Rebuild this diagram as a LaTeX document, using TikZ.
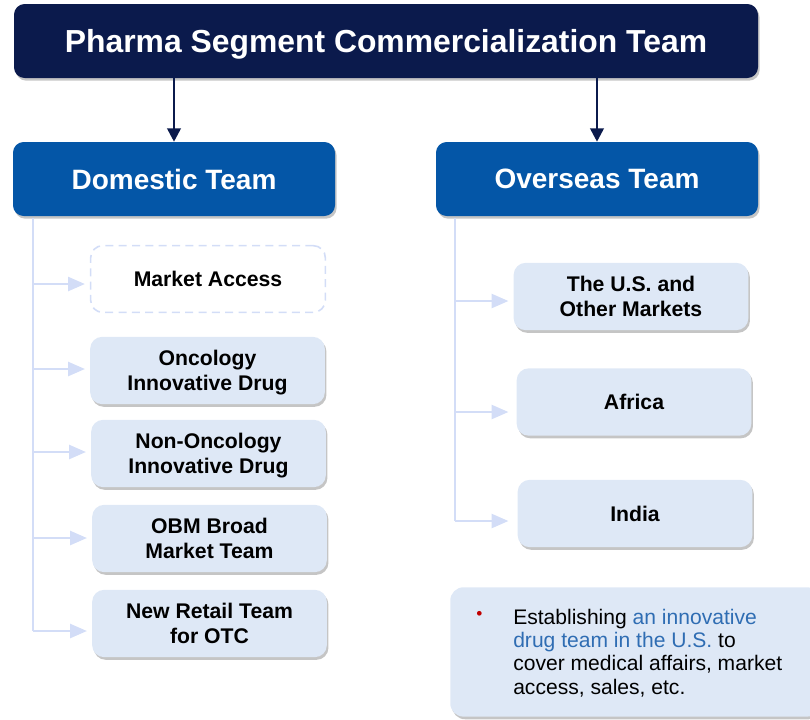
\documentclass[tikz,border=0pt]{standalone}
\usepackage{fontspec}
\setmainfont{Liberation Sans}
\usetikzlibrary{shadows,arrows.meta}
\definecolor{navy}{HTML}{0B1A4C}
\definecolor{midblue}{HTML}{0456A7}
\definecolor{paleblue}{HTML}{DEE8F6}
\definecolor{lineblue}{HTML}{D3DDF7}
\definecolor{textblue}{HTML}{2F6DB3}
\definecolor{bulletred}{HTML}{C00000}
\tikzset{
  px/.style={x=0.75pt,y=-0.75pt},
  softshadow/.style={drop shadow={shadow xshift=1.2pt,shadow yshift=-2pt,opacity=0.32,fill=black!70}},
  topbox/.style={fill=navy,rounded corners=8pt,minimum width=558pt,minimum height=55.5pt,text depth=0pt,
    text=white,font=\bfseries\fontsize{23.9}{28}\selectfont,inner sep=0pt,softshadow},
  teambox/.style={fill=midblue,rounded corners=8pt,minimum width=241.5pt,minimum height=55.5pt,text depth=0pt,
    text=white,font=\bfseries\fontsize{21}{24}\selectfont,inner sep=0pt,softshadow},
  subbox/.style={fill=paleblue,rounded corners=9pt,minimum width=176pt,minimum height=50.5pt,text depth=0pt,
    align=center,font=\bfseries\fontsize{15.9}{18.75}\selectfont,inner sep=0pt,softshadow},
  dashbox/.style={draw=lineblue,line width=1.2pt,dash pattern=on 6pt off 4pt,rounded corners=9pt,text depth=0pt,
    minimum width=176pt,minimum height=50pt,align=center,font=\bfseries\fontsize{15.9}{18.75}\selectfont,inner sep=0pt},
  navyarrow/.style={draw=navy,line width=2pt,-{Triangle[length=10pt,width=10pt]}},
  trunk/.style={draw=lineblue,line width=1.5pt},
  branch/.style={draw=lineblue,line width=1.5pt,-{Triangle[length=12.5pt,width=10.5pt]},shorten >=3.75pt},
}
\begin{document}
\begin{tikzpicture}[px]
\useasboundingbox (0,0) rectangle (810,719);
% top
\node[topbox] (top) at (386,41) {Pharma Segment Commercialization Team};
\node[teambox] (dom) at (174,179) {Domestic Team};
\node[teambox] (ovs) at (597,179) {Overseas Team};
\draw[navyarrow] (dom.north |- top.south) -- (dom.north);
\draw[navyarrow] (ovs.north |- top.south) -- (ovs.north);
% domestic sub boxes
\node[dashbox] (ma) at (208,279) {Market Access};
\node[subbox] (onc) at (207.5,370.5) {Oncology\\Innovative Drug};
\node[subbox] (non) at (208.5,453.5) {Non-Oncology\\Innovative Drug};
\node[subbox] (obm) at (209.5,538.5) {OBM Broad\\Market Team};
\node[subbox] (otc) at (209.5,623.5) {New Retail Team\\for OTC};
% overseas sub boxes
\node[subbox] (us) at (631,296.5) {The U.S. and\\Other Markets};
\node[subbox] (afr) at (634,402) {Africa};
\node[subbox] (ind) at (635,513.5) {India};
% domestic trunk
\coordinate (dtop) at (33,218);
\coordinate (d1) at (33,284);
\coordinate (d2) at (33,369);
\coordinate (d3) at (33,452);
\coordinate (d4) at (33,538);
\coordinate (d5) at (33,631);
\draw[trunk] (dtop) -- (d5);
\draw[branch] (d1) -- (d1 -| ma.west);
\draw[branch] (d2) -- (d2 -| onc.west);
\draw[branch] (d3) -- (d3 -| non.west);
\draw[branch] (d4) -- (d4 -| obm.west);
\draw[branch] (d5) -- (d5 -| otc.west);
% overseas trunk
\coordinate (otop) at (455,218);
\coordinate (o1) at (455,301);
\coordinate (o2) at (455,412);
\coordinate (o3) at (455,521);
\draw[trunk] (otop) -- (o3);
\draw[branch] (o1) -- (o1 -| us.west);
\draw[branch] (o2) -- ([xshift=-2.25pt]o2 -| afr.west);
\draw[branch] (o3) -- ([xshift=-3pt]o3 -| ind.west);
% note
\node[fill=paleblue,rounded corners=10pt,minimum width=277.5pt,minimum height=97pt,inner sep=0pt,softshadow,anchor=north west] (note) at (450,587) {};
\node[text=bulletred,font=\fontsize{13}{15}\selectfont,inner sep=0pt] (bul) at (479.5,615) {•};
\node[anchor=north west,inner sep=0pt,align=left,font=\fontsize{15.8}{17.6}\selectfont] (notetext) at (513,608.5)
 {Establishing \textcolor{textblue}{an innovative}\\\textcolor{textblue}{drug team in the U.S.} to\\cover medical affairs, market\\access, sales, etc.};
\end{tikzpicture}
\end{document}
